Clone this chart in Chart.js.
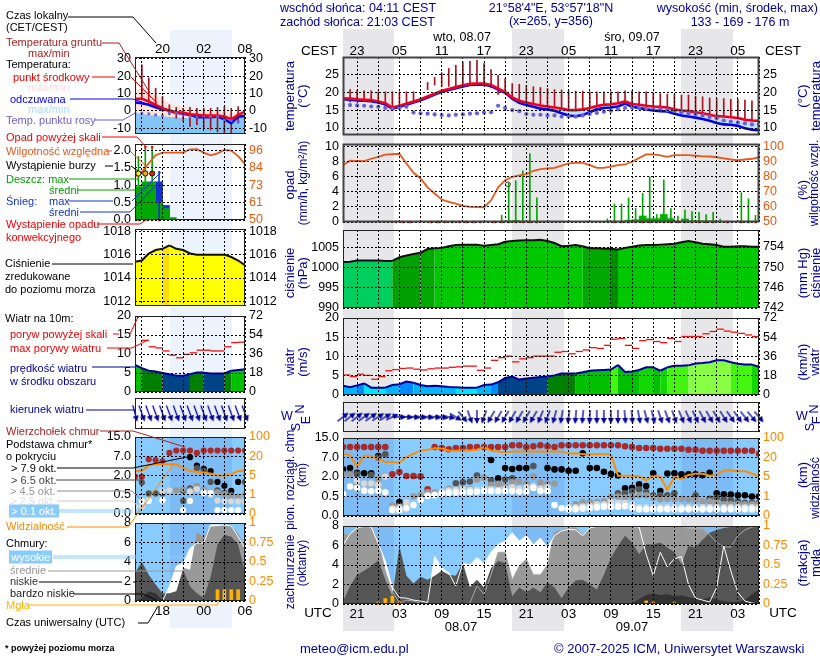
<!DOCTYPE html>
<html lang="pl">
<head>
<meta charset="utf-8">
<title>Meteogram ICM</title>
<script src="https://cdn.jsdelivr.net/npm/chart.js@4/dist/chart.umd.min.js"></script>
<style>
  html, body { margin: 0; padding: 0; background: #fff; }
  #page { position: relative; width: 820px; height: 660px; overflow: hidden; font-family: "Liberation Sans", Arial, sans-serif; font-size: 12px; }
  #page canvas { position: absolute; z-index: 1; }
  #page svg { position: absolute; left: 0; top: 0; z-index: 2; }
  .band { position: absolute; z-index: 0; }
  .txt { position: absolute; white-space: nowrap; z-index: 3; line-height: 13px; }
</style>
</head>
<body>
<div id="page"></div>
<script>
// --- czas: godziny od 00 UTC 07.07 ---
const hours = [19,20,21,22,23,24,25,26,27,28,29,30,31,32,33,34,35,36,37,38,39,40,41,42,43,44,45,46,47,48,49,50,51,52,53,54,55,56,57,58,59,60,61,62,63,64,65,66,67,68,69,70,71,72,73,74,75,76,77,78];
const legendHours = [14,15,16,17,18,19,20,21,22,23,24,25,26,27,28,29,30];

// --- panel glowny ---
const temp = [18.3,18.2,18.0,17.9,17.8,17.4,16.9,15.7,16.2,16.8,17.4,18.0,18.8,19.6,20.4,20.9,21.4,21.9,22.3,22.4,22.4,22.0,21.0,20.0,18.5,17.6,17.1,16.7,16.3,16.0,15.7,15.4,15.0,15.0,15.2,15.6,16.1,16.5,16.6,16.9,17.4,16.7,16.5,16.2,16.0,15.9,15.7,15.2,14.9,14.7,14.4,14.1,13.7,13.3,13.2,13.0,12.8,12.3,12.1,12.0];
const tempMax = [19.3,19.3,19.2,19.0,18.8,18.3,17.6,16.2,16.6,17.2,17.7,18.3,19.0,19.8,20.6,21.1,21.6,22.1,22.6,22.8,22.8,22.6,21.9,20.9,19.2,18.0,17.5,17.1,16.7,16.3,16.0,15.7,15.3,15.3,15.5,15.9,16.5,16.9,17.0,17.3,17.8,17.1,16.9,16.6,16.3,16.2,16.0,15.5,15.2,15.0,14.7,14.4,14.0,13.7,13.6,13.4,13.2,12.8,12.6,12.4];
const tempMin = [18.1,18.0,17.8,17.7,17.6,17.2,16.7,15.5,16.0,16.6,17.2,17.8,18.6,19.4,20.2,20.7,21.2,21.7,22.1,22.2,22.2,21.8,20.8,19.8,18.3,17.4,16.9,16.5,16.1,15.8,15.5,15.2,14.8,14.8,15.0,15.4,15.9,16.3,16.4,16.7,17.2,16.5,16.3,16.0,15.8,15.7,15.5,15.0,14.7,14.5,14.2,13.9,13.5,13.1,13.0,12.8,12.6,12.1,11.9,11.8];
const feels = [18.0,17.9,17.7,17.6,17.5,17.1,16.6,15.4,15.9,16.5,17.1,17.7,18.5,19.3,20.1,20.6,21.1,21.6,22.0,22.1,22.1,21.7,20.7,19.8,18.2,17.0,16.4,15.9,15.4,15.2,14.8,14.1,13.5,13.3,13.6,14.4,15.2,15.6,15.7,16.0,16.8,15.9,15.6,15.2,14.9,14.7,14.6,14.0,13.5,13.2,12.9,12.5,12.0,11.4,11.0,10.9,10.6,9.9,9.5,9.4];
const feelsMin = [17.8,17.7,17.5,17.4,17.3,16.9,16.4,15.2,15.7,16.3,16.9,17.5,18.3,19.1,19.9,20.4,20.9,21.4,21.8,21.9,21.9,21.5,20.5,19.6,18.0,16.8,16.2,15.7,15.2,15.0,14.6,13.9,13.3,13.1,13.4,14.2,15.0,15.4,15.5,15.8,16.6,15.7,15.4,15.0,14.7,14.5,14.4,13.8,13.3,13.0,12.7,12.3,11.8,11.2,10.8,10.7,10.4,9.7,9.3,9.2];
const dewPoint = [16.4,16.4,16.3,16.2,16.0,15.9,15.6,15.3,15.6,15.9,14.3,14.1,14.0,13.8,13.6,13.5,13.7,13.8,14.0,14.1,14.3,14.4,16.2,15.6,15.0,14.7,13.9,13.7,13.7,13.5,13.5,13.2,13.2,13.2,13.5,13.9,14.2,14.5,14.8,15.2,15.6,15.7,15.5,15.3,15.3,15.2,15.0,14.7,14.4,14.0,13.8,13.5,13.1,12.7,12.1,11.8,11.5,11.3,11.0,11.0];
const groundMax = [null,20.7,20.6,20.4,20.4,20.1,20.1,20.1,20.1,20.1,20.1,null,22.7,24.1,25.4,26.6,27.5,28.4,28.6,28.9,28.0,26.3,24.7,23.8,22.4,22.2,21.9,21.5,21.3,21.0,20.7,20.6,20.4,20.3,20.3,20.1,20.1,20.1,20.1,20.1,20.4,20.4,20.1,20.1,19.8,19.6,19.4,19.4,19.2,19.2,18.9,18.7,18.4,18.2,18.2,18.0,18.0,17.8,17.6,null];
const groundMin = [null,17.3,17.6,17.6,17.4,17.0,16.2,15.6,16.0,16.6,17.2,null,20.7,22.0,21.6,21.6,21.7,22.2,22.4,22.4,22.4,21.2,19.4,20.2,18.5,17.8,17.3,16.9,16.5,16.2,15.9,15.5,15.2,15.2,15.4,15.8,16.3,16.7,16.8,17.1,17.6,16.9,16.7,16.4,16.2,16.0,15.8,15.4,15.1,14.8,14.5,14.2,13.8,13.4,13.3,13.1,12.9,12.4,12.2,null];

const humidity = [87.8,90.7,90.5,90.4,92,93.3,94.7,95,95.3,88.9,82.7,78.9,73,68.9,64.9,63.3,62.2,60.7,60,59.9,59.8,64.4,73,77.8,80,81,81.8,84,85.1,85.6,86,87.5,88.9,89.3,89.3,87.8,86,86,86.7,87.8,88.2,90,92.5,94.9,94.9,94.2,93.3,94.4,94.4,94.4,94,93.6,93.5,93,92.2,91.5,91,91.5,92,93];
const rainMax = [0,0,0,0,0,0,0,0,0,0,0,0,0,0.1,0,0,0,0,0,0,0,0,0.9,5.2,5.5,6.8,9.1,3.2,0,0,0,0,0,0,0,0,0,0.4,2.4,2.4,3.2,1.8,3.8,6,1,5.6,1.8,0.8,1.6,1.4,1.3,1,1.3,0.4,0,0,3.9,3.1,0.9,0];
const rainAvg = [0,0,0,0,0,0,0,0,0,0,0,0,0,0,0,0,0,0,0,0,0,0,0,0.15,0.2,0.1,0.1,0.05,0,0,0,0,0,0,0,0,0,0,0.1,0.1,0.25,0.3,0.8,0.45,0.45,1,0.45,0.1,0.4,0.15,0.15,0.15,0.15,0.05,0,0,0.1,0.1,0.1,0];
const convectiveHours = [26,27,28,31,32,33,34,35,36,37,38,40,41,42,43,44,45,46,57,58,59,60,61,62,63,64,65,66,67,68,69,70,71,73,75,76,77];
const stormHours = [42.4];
const stormRain = [5];

const pressure = [1001.3,1001.4,1001.7,1001.7,1001.7,1001.7,1001.6,1001.6,1002.5,1002.9,1003.3,1003.6,1004.5,1004.7,1004.8,1005.2,1005.5,1005.6,1005.6,1005.6,1005.3,1005.5,1005.7,1006.3,1006.5,1006.6,1006.7,1006.7,1006.8,1006.5,1006,1005.2,1005.3,1005.5,1005.2,1004.7,1004.7,1004.6,1004.6,1004.4,1004.8,1005.1,1005.4,1005.5,1005.5,1005.6,1005.7,1005.8,1006.2,1006.5,1006.2,1005.8,1005.7,1005.5,1005.1,1005.1,1005.2,1005.2,1005.1,1005.1];

const wind = [2.4,2,2.5,3,1.9,1.9,1.9,2.6,2.8,3.5,3.2,2.6,2.3,2.4,2.3,2.1,2,1.9,1.9,1.9,2.6,2.7,3.3,4.4,4.8,4,4.3,4.5,4.7,4.8,5.1,5.6,5.6,5.6,5.9,6.3,6.4,6.5,6.6,7.8,6,6.1,6.5,7.2,7.2,6.3,7.2,7.6,7.6,7.7,8.2,8.3,8.5,9,9,8.5,8.1,7.9,7.9,7.3];
const gust = [5.2,4.8,5.4,5.1,4.1,4.8,6.3,6.6,6.9,7,6.7,6.5,6.8,7,7,7.2,7.3,7.5,7.5,6.4,7,9,9.7,10.1,8.6,9.4,9.7,10.1,10.1,10.1,11.1,11.3,10.7,11.3,11.7,12.3,12.1,12.9,14.5,14.7,12.9,12.1,14.1,14.4,13.9,13.6,14.7,13.9,15.2,15.2,15.2,15.9,16.5,17.1,16.6,16.3,16,15.6,15.2,15.2];
const windFrom = [232,232,232,235,235,238,240,245,272,275,276,277,278,278,280,282,300,320,340,0,20,30,30,30,30,30,30,30,22,20,15,10,8,5,5,3,0,0,0,0,355,355,350,345,345,342,340,340,338,335,335,332,330,330,328,325,325,322,320,320];

const cloudTop = [11.3,11.3,11.3,11.3,11.3,11.3,11.3,2.7,3.3,2.25,2.25,2.15,1.05,11.3,10.9,10.4,10.9,10.9,11.3,11.3,11.3,11.3,11.3,11.3,12,12,11.3,11.6,12,11.6,11.3,12,12,12,12,12,12,12,12,12,11.6,11.3,10.9,10.9,10.9,10.6,10.6,10.6,10.6,10.2,10.2,9.8,9.8,9.8,9.8,9.8,9.8,9.8,9.8,8.5];
const base79 = [3.95,4.3,3.1,2.95,2.95,7.6,null,null,0.36,null,null,null,null,null,null,null,null,null,null,null,null,6.35,1.9,4.3,4.05,4.3,4.3,null,null,4.3,3.95,3.95,3.6,3.6,8.7,4.3,4.3,3.35,2.75,2.4,1.13,1.17,1.43,1.31,2.95,0.92,2.9,2.95,2.7,2.7,2.7,2.45,3.1,0.74,0.67,0.65,0.6,0.6,0.5,0.5];
const base65 = [2.85,2.85,2.8,null,2.5,7,8.3,null,0.27,null,null,null,null,null,null,null,1.52,1.6,1.65,2.4,null,1.75,1.5,1.8,1.9,null,null,4.8,null,null,null,null,null,null,null,null,null,null,null,0.74,0.74,0.92,1.05,0.85,0.59,0.59,0.59,0.74,null,null,0.59,null,0.44,0.47,0.43,0.41,0.38,0.34,0.34,0.34];
const base45 = [2.6,2.6,1.6,1.5,1.5,1.85,2.3,0.27,0.21,0.36,0.5,0.6,0.85,0.8,0.85,1.1,1.05,1.05,1.05,1.8,1.95,1.4,1.45,1.3,1.6,1.65,1.5,2.1,1.6,1.5,1.5,null,null,0.3,0.36,0.35,0.35,0.38,0.5,0.5,0.47,0.5,0.6,0.59,0.47,0.43,0.44,0.43,0.44,0.43,0.41,0.38,0.38,0.34,0.3,0.3,0.3,0.3,0.3,0.3];
const base25 = [null,null,1.7,1.5,1.5,1.4,2.1,0.19,0.22,0.35,null,null,0.58,0.65,0.85,0.95,1,1.05,1,1,1.1,1.05,1,1.1,1.2,1.1,1.2,1.3,1.1,1.2,null,null,0.22,0.22,0.24,0.26,0.3,0.3,0.36,0.33,0.33,0.3,0.22,0.22,0.22,0.22,0.22,0.22,0.22,0.22,0.22,0.22,0.22,0.22,0.22,0.22,0.22,0.22,0.22,0.22];
const base01 = [0.68,1.27,1.15,0.95,0.9,0.95,0.82,0.15,0.15,0.2,0.28,0.41,0.55,0.6,0.72,0.78,0.8,0.8,0.85,0.87,0.9,0.9,0.9,0.9,0.9,0.87,0.87,1.15,0.9,0.9,0.28,0.2,0.17,0.17,0.19,0.2,0.22,0.24,0.24,0.24,0.25,0.21,0.17,0.17,0.17,0.17,0.17,0.17,0.17,0.17,0.17,0.17,0.17,0.17,0.17,0.17,0.17,0.17,0.17,0.17];
const visibility = [35,29,13,27,25,19,16.5,16.5,16,21.6,35,48,52,58,58,48,48,49,49,52,63,48,45,41,45,45,45,45,45,45,45,45,36,37,33,33,33,33,33,5.9,5.9,5.9,5.5,4.3,5.9,5.2,2.4,5,4.6,6.6,7.5,7.5,5.9,6.6,10,10,9.5,9.5,7.5,5.5];

const cloudHigh = [6.05,7.2,7.8,8,7.9,6.2,4.4,1.7,0.65,0.6,0.4,0.3,0.15,4.9,3.7,3.2,1.85,4.2,4,4.75,4.1,5.3,6.1,6.45,7.3,6.45,7,6.1,6.75,5.8,7,7.5,7.65,7.6,7,7.8,8,8,8,8,8,7.95,7.9,5.1,2.9,5.3,3.8,4.65,4.85,2,0.6,0.4,0.2,1.7,5.95,3.4,1.2,0.3,0.1,0];
const cloudMid = [7.2,7.1,7.8,7.9,7.9,6.5,3.4,1.3,0.1,0.4,0.3,0.1,0,0,0,0,0,0,0.1,1.85,1,3,5.3,5.3,2.5,3.9,4.6,3,3,4,7.4,7.6,7.8,7.85,7.1,7.8,7.9,7.9,7.95,7.95,7.95,7.95,7.95,7.95,7.95,7.9,7.9,8,7.95,7.75,7.75,7.7,7.1,6.3,5.85,5.85,7,7.6,7.9,8];
const cloudLow = [0.25,1.85,3,3.4,3.9,4.5,2.5,0.8,5.95,2.9,2.1,2.8,2.5,2.9,3.4,3,2.9,4.2,1.75,2.5,1.7,3.7,4.4,4.2,0.8,1.7,1.2,1.7,1.2,2.2,1.7,0.6,1.7,2.4,2.5,2,1.5,3,4.75,5.95,7,6.3,5.1,6.1,6.1,6.3,5.8,5.3,4.1,5.95,5.8,6.6,7.3,7.6,7.8,7.9,8,8,8,8];
const cloudVeryLow = [0.1,0.1,0,0,0,0,0,0,0,0,0,0,0,0,0,0,0,0,0,0,0,0,0,0,0,0,0,0,0,0,0,0,0,0,0,0,0,0,0,0,0,0.1,0.5,0.9,1.1,0.9,1,0.8,0.9,0.7,0.6,0.5,0.7,0.4,0.3,0.2,0.2,0.4,1,1.5];
const fog = [0,0,0,0,0,0,0.07,0.1,0,0,0,0,0,0,0,0,0,0,0,0,0,0,0,0,0,0,0,0,0,0,0,0,0,0,0,0,0,0,0,0,0,0,0,0.04,0,0,0,0,0,0,0,0,0,0,0,0,0,0,0,0];
const fogTraceHours = [24,27,63,66];
const fogTrace = [0.01,0.01,0.01,0.01];

// --- legenda (panel lewy) ---
const legTemp = [6.9,6.9,5.4,3.5,1.5,0,-1,-1,-1.9,-2.3,-2.7,-2.7,-2.7,-3.3,-4.8,-2.3,-0.4];
const legTempMax = [13,12.5,11,9,7,4.4,3,2.6,1.5,1,0.4,0.2,0,-0.5,-1.5,-0.5,0];
const legFeels = [4.8,4.4,3.5,2.1,1,0.2,-1,-1.7,-2.3,-3.7,-3.7,-3.7,-3.3,-4.8,-7.1,-3.3,-2.9];
const legFeelsTop = [-1.3,-1.8,-2.3,-2.8,-3.3,-3.5,-3.7,-4,-4.3,-4.3,-4.3,-4.3,-4.4,-5,-7.1,-4,-3.2];
const legDew = [-1.5,-1.3,-1.7,-2.3,-2.7,-1.3,-1.3,-2.3,-3.3,-3.7,-3.7,-3.3,-3.3,-5.2,-5.6,-6.2,-4.3];
const legGroundMax = [null,26.5,19,13,8.3,3.5,2,1.5,2,1.5,1.5,1.5,2,2.5,1.5,2.5,null];
const legGroundMin = [null,8,4.4,2.5,-0.4,-2.3,-4.2,-6,-9,-8,-10,-11,-12,-13,-13,-7,null];

const legHumidity = [78.7,82,87.6,93,94.7,94.7,94.7,94.7,96.9,97,94.7,92.9,94.2,96.4,96,92.4,87.1];
const legRainAvg = [0.96,1.1,1.1,0.52,0.33,0.07,0,0,0,0,0,0,0,0,0,0,0];
const legSnowAvg = [0,0,0,1.1,0.42,0,0,0,0,0,0,0,0,0,0,0,0];
const legRainMax = [1.83,2.07,2.07,0,0,0,0,0,0,0,0,0,0,0,0,0,0];
const legSnowMax = [0,0,0,1.4,0,0,0,0,0,0,0,0,0,0,0,0,0];
const legOverHours = [15.5,16.5];
const legOver = [2.1,2.1];
const legStormHours = [14.5,15.5,16.5];
const legStorm = [1.34,1.34,1.34];
const legConvHours = [14.5,15.5,16.5,17.5];

const legPressure = [1015.4,1015.5,1016.1,1016.4,1016.5,1016.8,1016.5,1016.4,1016.1,1016,1016,1016,1016,1016,1015.8,1015.5,1015.1];

const legWind = [7.1,6.3,5.6,5.4,5,4.7,4.3,4.3,4.7,5.1,5.1,4.9,4.9,4.9,5.6,5.8,6];
const legGust = [null,13.6,11.9,11.6,10.8,9.7,9,9.9,10.3,11,11,10.8,10.8,11.9,13,13.1,null];
const legOverGustHours = [14.4];
const legOverGust = [19.7];
const legWindFrom = [345,340,340,340,340,340,340,340,340,340,340,340,340,340,340,340,340];

const legTop = [1.9,1.9,6.2,6,5.7,8.4,9.4,9.4,9.4,8.4,9.4,9.4,9.4,9.4,9.4,9.4,9.4];
const legBase79 = [null,null,null,null,null,null,null,0.86,6.75,4.6,3.75,3.15,1.5,1.2,0.8,1.5,null];
const legBase65 = [null,1.45,0.6,0.6,0.6,null,null,0.34,1,3.9,3.2,1.5,0.85,0.65,0.5,null,1.5];
const legBase45 = [null,0.33,null,null,null,0.85,0.85,0.9,0.85,1.2,0.9,0.7,0.7,0.55,0.45,0.45,0.5];
const legBase25 = [0.19,0.2,null,null,0.75,0.85,null,null,0.75,0.95,0.7,0.5,0.35,0.33,0.33,0.33,0.33];
const legBase01 = [null,0.34,0.34,null,0.36,null,null,0.1,0.34,null,0.65,0.65,0.1,0.1,0.1,0.1,null];
const legVisibility = [8.5,8.5,12.8,13.7,13.7,13.7,13.7,11,8.5,8,7.2,6.5,5,5,5.9,8.5,8.5];

const legHigh = [0,0,0,0,0,1.5,3.55,3.9,5.4,5.95,5.95,7.8,7.8,7.8,7.7,6.6,5.4];
const legMid = [0,0,0,0,0,0,0.8,3.4,3.2,7.1,6.6,7.65,7.7,7.8,7.8,6.95,5.6];
const legLow = [2.9,4,2.7,1.7,0.8,0.8,1,3.2,1.5,0.8,0.3,2.5,5.8,6.8,6.6,5.8,2.9];
const legVeryLow = [0,0.3,1,0.8,0.1,0,0,0,0,0,0,0,0,0,0,0,0];
const legFog = [0,0,0,0,0,0,0,0,0,0,0,0,0.145,0.145,0.145,0.145,0];

// --- etykiety osi ---
const tempTicks = [10,15,20,25];
const legTempTicks = [-10,0,10,20,30];
const rainTicks = [0,2,4,6,8,10];
const humTicks = [50,60,70,80,90,100];
const legRainTicks = [0,0.5,1,1.5,2];
const legHumTicks = [50,61.5,73,84.5,96];
const pressTicks = [990,995,1000,1005];
const mmHgTicks = [742,746,750,754];
const legPressTicks = [1012,1014,1016,1018];
const windTicks = [0,5,10,15,20];
const kmhTicks = [0,18,36,54,72];
const baseStops = [0,0.5,2,7,15];
const visStops = [0,1,5,20,100];
const cloudTicks = [0,2,4,6,8];
const fogTicks = [0,0.25,0.5,0.75,1];

const nightBands = [[19,26.2],[43,50.4],[67,74.3]];
const legNightBands = [[19.1,28.1]];

const NAVY = '#000099';
const page = document.getElementById('page');

function pts(xs, ys, dx) {
  return ys.map((y, i) => ({ x: xs[i] + (dx || 0), y }));
}
// os nieliniowa chmur: progi rownomiernie rozlozone
function toPos(v, stops) {
  if (v === null) return null;
  for (let i = 1; i < stops.length; i++) {
    if (v <= stops[i]) return i - 1 + (v - stops[i - 1]) / (stops[i] - stops[i - 1]);
  }
  return stops.length - 1;
}
function posAll(arr, stops) {
  return arr.map(v => toPos(v, stops));
}

function windColor(v) {
  if (v < 2) return '#00e6ff';
  if (v < 3) return '#00b4ff';
  if (v < 3.6) return '#0088ff';
  if (v < 5) return '#004488';
  if (v < 5.7) return '#008000';
  if (v < 6.7) return '#00c000';
  if (v < 7.5) return '#11d800';
  if (v < 8.2) return '#44f511';
  return '#88ff44';
}
function pressColor(v) {
  if (v < 1002.4) return '#00cf5f';
  if (v < 1004.3) return '#00a000';
  if (v < 1004.5) return '#008c00';
  if (v < 1004.8) return '#00a800';
  return '#00c800';
}

// strzalka kierunku wiatru, grot do gory
function makeArrow(len) {
  const c = document.createElement('canvas');
  c.width = c.height = len + 4;
  const g = c.getContext('2d');
  const m = c.width / 2;
  g.strokeStyle = NAVY;
  g.fillStyle = NAVY;
  g.lineWidth = 1.3;
  g.beginPath();
  g.moveTo(m, 2 + len);
  g.lineTo(m, 6);
  g.stroke();
  g.beginPath();
  g.moveTo(m, 2);
  g.lineTo(m - 3, 8);
  g.lineTo(m + 3, 8);
  g.closePath();
  g.fill();
  return c;
}
const arrowMain = makeArrow(14);
const arrowLeg = makeArrow(17);

const decor = {
  id: 'decor',
  beforeDraw(chart, args, o) {
    const { ctx, chartArea: a, scales } = chart;
    ctx.save();
    if (o.bg) {
      ctx.fillStyle = o.bg;
      ctx.fillRect(a.left, a.top, a.width, a.height);
    }
    if (o.bandColor) {
      ctx.fillStyle = o.bandColor;
      o.bands.forEach(b => {
        const x0 = scales.x.getPixelForValue(b[0]);
        const x1 = scales.x.getPixelForValue(b[1]);
        ctx.fillRect(x0, a.top, x1 - x0, a.height);
      });
    }
    ctx.restore();
  },
  afterDraw(chart, args, o) {
    const { ctx, chartArea: a } = chart;
    ctx.save();
    ctx.strokeStyle = o.frame > 1 ? '#444' : '#222';
    ctx.lineWidth = o.frame || 1;
    ctx.strokeRect(a.left + 0.5, a.top + 0.5, a.width - 1, a.height - 1);
    ctx.restore();
  }
};

function yScale(c, position) {
  return {
    type: 'linear',
    position,
    min: c.min,
    max: c.max,
    afterBuildTicks(scale) { scale.ticks = (c.ticks || []).map(value => ({ value })); },
    afterFit(scale) { scale.width = c.width; },
    border: { display: false, dash: [2, 2] },
    grid: { display: position === 'left' && !c.noGrid, color: '#000', z: 1, drawTicks: false },
    ticks: {
      display: !!c.ticks,
      padding: c.padding || 4,
      autoSkip: false,
      color: c.color || '#000',
      font: { family: 'Liberation Sans', size: 12.5 },
      callback: (v, i) => c.labels ? c.labels[i] : String(v)
    }
  };
}

function panel(r, o) {
  const padT = 14, padB = 14;
  const xh = o.xLabel ? 16 : 0;
  const lw = o.y.width, rw = o.y2.width;
  const cv = document.createElement('canvas');
  const h = r.h + padT + padB + xh;
  cv.width = r.w + lw + rw;
  cv.height = h;
  cv.style.left = (r.x - lw) + 'px';
  cv.style.top = (r.y - padT - (o.xPos === 'top' ? xh : 0)) + 'px';
  cv.style.width = cv.width + 'px';
  cv.style.height = h + 'px';
  page.appendChild(cv);
  return new Chart(cv, {
    type: 'line',
    data: { datasets: o.datasets },
    plugins: [decor],
    options: {
      responsive: false,
      animation: false,
      devicePixelRatio: 1,
      layout: { padding: { top: padT, bottom: padB, left: 0, right: 0 } },
      plugins: {
        legend: { display: false },
        tooltip: { enabled: false },
        decor: { bg: o.bg, bandColor: o.bandColor, bands: o.bands, frame: o.frame }
      },
      elements: { point: { radius: 0 }, line: { tension: 0 } },
      scales: {
        x: {
          type: 'linear',
          position: o.xPos || 'bottom',
          min: o.xMin,
          max: o.xMax,
          offset: false,
          border: { display: false, dash: [2, 2] },
          grid: { color: '#000', z: 1, drawTicks: false, offset: false },
          afterFit(scale) { scale.height = xh; },
          ticks: {
            stepSize: 3,
            includeBounds: false,
            display: !!o.xLabel,
            autoSkip: false,
            maxRotation: 0,
            padding: o.xPad !== undefined ? o.xPad : 2,
            color: '#000',
            font: { family: 'Liberation Sans', size: 13.5 },
            callback: v => o.xLabel ? o.xLabel(v) : ''
          }
        },
        y: yScale(o.y, 'left'),
        y2: yScale(o.y2, 'right')
      }
    }
  });
}

function line(data, color, width, extra) {
  return Object.assign({ data, borderColor: color, borderWidth: width, pointRadius: 0, fill: false }, extra);
}
function dots(data, color, radius, extra) {
  return Object.assign({ data, showLine: false, pointRadius: radius, pointBackgroundColor: color, pointBorderColor: color, pointBorderWidth: 0 }, extra);
}
function bars(data, color, thickness, extra) {
  return Object.assign({ type: 'bar', data, backgroundColor: color, barThickness: thickness, grouped: false, borderWidth: 0 }, extra);
}
// wypelnienie kolorem zaleznym od wartosci; rysowane dwa razy, zeby nie bylo szczelin miedzy segmentami
function colorFill(data, color, width, base, colorFor) {
  const seg = () => ({ fill: 'start', backgroundColor: base, segment: { backgroundColor: c => colorFor(c.p1.parsed.y) } });
  return [line(data, color, width, seg()), line(data, 'rgba(0,0,0,0)', 0, seg())];
}
const pad2 = n => String(n).padStart(2, '0');

// ---------- panele glowne ----------
const M = { x: 343, w: 416, xMin: 19, xMax: 78, bands: nightBands };
const mainW = 50, mainR = 40;

panel({ x: M.x, y: 57, w: M.w, h: 78 }, {
  xMin: M.xMin, xMax: M.xMax, xPos: 'top', frame: 2, xPad: -2,
  xLabel: v => (v % 6 === 3 ? pad2((v + 2) % 24) : ''),
  y: { min: 8.05, max: 29.8, ticks: tempTicks, width: mainW },
  y2: { min: 8.05, max: 29.8, ticks: tempTicks, width: mainR },
  datasets: [
    dots(pts(hours, dewPoint), '#6a5fd8', 2.1),
    line(pts(hours, temp), '#ee0022', 2.6),
    line(pts(hours, feels), '#0000ee', 2.6),
    bars(groundMax.map((y, i) => ({ x: hours[i], y: y === null ? null : [groundMin[i], y] })), '#aa1122', 1),
    line(pts(hours, tempMax), 'rgba(0,0,0,0)', 0, { fill: '+1', backgroundColor: '#ffe2e2' }),
    line(pts(hours, tempMin), 'rgba(0,0,0,0)', 0, { fill: '+1', backgroundColor: '#bfe2ff' }),
    line(pts(hours, feelsMin), 'rgba(0,0,0,0)', 0)
  ]
});

panel({ x: M.x, y: 144, w: M.w, h: 78 }, {
  xMin: M.xMin, xMax: M.xMax, frame: 2,
  y: { min: 0, max: 10.37, ticks: rainTicks, width: mainW },
  y2: { min: 50, max: 101.8, ticks: humTicks, width: mainR, color: '#e85a10' },
  datasets: [
    dots(pts(stormHours, stormRain), 'rgba(0,0,0,0)', 2.5, { pointBorderColor: '#444', pointBorderWidth: 1 }),
    dots(convectiveHours.map(x => ({ x: x + 0.5, y: 0 })), '#dd1111', 1.7, { pointStyle: 'rect', clip: false }),
    line(pts(hours, humidity), '#e8581c', 1.8, { yAxisID: 'y2' }),
    bars(pts(hours, rainMax, 0.5), '#00aa00', 1),
    bars(pts(hours, rainAvg, 0.5), '#00b400', 7)
  ]
});

panel({ x: M.x, y: 230, w: M.w, h: 78 }, {
  xMin: M.xMin, xMax: M.xMax, frame: 1,
  y: { min: 990, max: 1009.2, ticks: pressTicks, width: mainW },
  y2: { min: 742, max: 757.3, ticks: mmHgTicks, width: mainR },
  datasets: colorFill(pts(hours, pressure), '#111', 2, '#00c800', pressColor)
});

panel({ x: M.x, y: 318, w: M.w, h: 77 }, {
  xMin: M.xMin, xMax: M.xMax, frame: 1,
  y: { min: 0, max: 20, ticks: windTicks, width: mainW },
  y2: { min: 0, max: 72, ticks: kmhTicks, width: mainR },
  datasets: [
    dots(pts(hours, gust, 0.5), '#ee1111', 3.6, { pointStyle: 'line', pointBorderWidth: 1.3 }),
    ...colorFill(pts(hours, wind), '#000099', 2, '#00c000', windColor)
  ]
});

panel({ x: M.x, y: 402, w: M.w, h: 30 }, {
  xMin: M.xMin, xMax: M.xMax, frame: 1,
  y: { min: 0, max: 1, width: mainW, noGrid: true },
  y2: { min: 0, max: 1, width: mainR },
  datasets: [
    dots(hours.map(x => ({ x, y: 0.5 })), NAVY, 8, {
      pointStyle: arrowMain,
      pointRotation: windFrom.map(d => (d + 180) % 360),
      clip: false
    })
  ]
});

panel({ x: M.x, y: 438, w: M.w, h: 78 }, {
  xMin: M.xMin, xMax: M.xMax, frame: 1,
  bg: '#88ccff', bandColor: 'rgba(70,110,190,0.18)', bands: M.bands,
  y: { min: 0, max: 4, ticks: [0, 1, 2, 3, 4], labels: baseStops.map(v => v.toFixed(1)), width: mainW },
  y2: { min: 0, max: 4, ticks: [0, 1, 2, 3, 4], labels: visStops.map(String), width: mainR, color: '#ff8800' },
  datasets: [
    line(pts(hours, posAll(visibility, visStops)), '#ff8c00', 2, { yAxisID: 'y2' }),
    dots(pts(hours, posAll(base01, baseStops)), '#fff', 3.3),
    dots(pts(hours, posAll(base25, baseStops)), '#d8d8d8', 3.3),
    dots(pts(hours, posAll(base45, baseStops)), '#999', 3.3),
    dots(pts(hours, posAll(base65, baseStops)), '#555', 3.3),
    dots(pts(hours, posAll(base79, baseStops)), '#000', 3.3),
    dots(pts(hours, posAll(cloudTop, baseStops)), '#aa2a2a', 3.3)
  ]
});

panel({ x: M.x, y: 526, w: M.w, h: 78 }, {
  xMin: M.xMin, xMax: M.xMax, frame: 1,
  bg: '#88ccff', bandColor: 'rgba(70,110,190,0.18)', bands: M.bands,
  xLabel: v => (v % 6 === 3 ? pad2(v % 24) : ''),
  y: { min: 0, max: 8, ticks: cloudTicks, width: mainW },
  y2: { min: 0, max: 1, ticks: fogTicks, width: mainR, color: '#ff8800' },
  datasets: [
    dots(pts(fogTraceHours, fogTrace), '#ffee88', 1.5, { yAxisID: 'y2', pointBorderColor: '#ff9900', pointBorderWidth: 1, clip: false }),
    bars(pts(hours, fog), '#ffb000', 3, { yAxisID: 'y2' }),
    line(pts(hours, cloudHigh), '#fff', 1),
    line(pts(hours, cloudMid), '#a8a8a8', 1),
    line(pts(hours, cloudVeryLow), 'rgba(0,0,0,0)', 0, { fill: 'start', backgroundColor: '#333' }),
    line(pts(hours, cloudLow), 'rgba(0,0,0,0)', 0, { fill: 'start', backgroundColor: '#555' }),
    line(pts(hours, cloudMid), 'rgba(0,0,0,0)', 0, { fill: 'start', backgroundColor: '#999' }),
    line(pts(hours, cloudHigh), 'rgba(0,0,0,0)', 0, { fill: 'start', backgroundColor: '#fff' })
  ]
});

// ---------- panele legendy ----------
const L = { x: 135, w: 110, xMin: 14, xMax: 30 };
const legW = 50, legR = 40;

panel({ x: L.x, y: 57, w: L.w, h: 77 }, {
  xMin: L.xMin, xMax: L.xMax, xPos: 'top', xPad: 0,
  xLabel: v => (v % 6 === 0 ? pad2((v + 2) % 24) : ''),
  y: { min: -13.3, max: 31, ticks: legTempTicks, width: legW },
  y2: { min: -13.3, max: 31, ticks: legTempTicks, width: legR },
  datasets: [
    dots(pts(legendHours, legDew), '#6a5fd8', 1.9, { pointStyle: 'rect' }),
    line(pts(legendHours, legTemp), '#ee0022', 2.6),
    line(pts(legendHours, legFeels), '#0000ee', 2.6),
    bars(legGroundMax.map((y, i) => ({ x: legendHours[i], y: y === null ? null : [legGroundMin[i], y] })), '#aa1122', 1),
    line(pts(legendHours, legFeelsTop), 'rgba(0,0,0,0)', 0, { fill: 'start', backgroundColor: 'rgba(100,190,255,0.8)' }),
    line(pts(legendHours, legTempMax), 'rgba(0,0,0,0)', 0, { fill: { value: -13 }, backgroundColor: '#ffe2d8' })
  ]
});

panel({ x: L.x, y: 144, w: L.w, h: 76 }, {
  xMin: L.xMin, xMax: L.xMax,
  y: { min: 0, max: 2.19, ticks: legRainTicks, labels: legRainTicks.map(v => v.toFixed(1)), width: legW },
  y2: { min: 50, max: 100.4, ticks: legHumTicks, labels: legHumTicks.map(v => String(Math.floor(v))), width: legR, color: '#e85a10' },
  datasets: [
    dots(pts(legStormHours, legStorm), ['#ffee00', '#ffaa00', '#ee2200'], 2.6, { pointBorderColor: '#111', pointBorderWidth: 1 }),
    dots(pts(legOverHours, legOver), '#ee1111', 1.7, { pointStyle: 'rect' }),
    dots(legConvHours.map(x => ({ x, y: 0 })), '#dd1111', 1.5, { pointStyle: 'rect', clip: false }),
    line(pts(legendHours, legHumidity), '#e8581c', 1.8, { yAxisID: 'y2' }),
    bars(pts(legendHours, legRainMax, 0.5), '#00aa00', 1),
    bars(pts(legendHours, legSnowMax, 0.5), '#1133cc', 1),
    bars(pts(legendHours, legRainAvg, 0.5), '#00a800', 7),
    bars(pts(legendHours, legSnowAvg, 0.5), '#1133cc', 7)
  ]
});

panel({ x: L.x, y: 229, w: L.w, h: 77 }, {
  xMin: L.xMin, xMax: L.xMax,
  y: { min: 1011.6, max: 1018.2, ticks: legPressTicks, width: legW },
  y2: { min: 1011.6, max: 1018.2, ticks: legPressTicks, width: legR },
  datasets: colorFill(pts(legendHours, legPressure), '#111', 2, '#ffff00', v => (v > 1016.7 ? '#ffdd00' : '#ffff00'))
});

panel({ x: L.x, y: 316, w: L.w, h: 76 }, {
  xMin: L.xMin, xMax: L.xMax,
  y: { min: 0, max: 20, ticks: windTicks, width: legW },
  y2: { min: 0, max: 72, ticks: kmhTicks, width: legR },
  datasets: [
    dots(pts(legOverGustHours, legOverGust), '#ee1111', 1.5, { pointStyle: 'rect' }),
    dots(pts(legendHours, legGust, 0.5), '#ee1111', 3.6, { pointStyle: 'line', pointBorderWidth: 1.3 }),
    ...colorFill(pts(legendHours, legWind), '#000099', 2, '#00c000', windColor)
  ]
});

panel({ x: L.x, y: 398, w: L.w, h: 31 }, {
  xMin: L.xMin, xMax: L.xMax,
  y: { min: 0, max: 1, width: legW, noGrid: true },
  y2: { min: 0, max: 1, width: legR },
  datasets: [
    dots(legendHours.map(x => ({ x, y: 0.5 })), NAVY, 8, {
      pointStyle: arrowLeg,
      pointRotation: legWindFrom.map(d => (d + 180) % 360),
      clip: false
    })
  ]
});

panel({ x: L.x, y: 437, w: L.w, h: 77 }, {
  xMin: L.xMin, xMax: L.xMax,
  bg: '#88ccff', bandColor: 'rgba(70,110,190,0.18)', bands: legNightBands,
  y: { min: 0, max: 4, ticks: [0, 1, 2, 3, 4], labels: baseStops.map(v => v.toFixed(1)), width: legW },
  y2: { min: 0, max: 4, ticks: [0, 1, 2, 3, 4], labels: visStops.map(String), width: legR, color: '#ff8800' },
  datasets: [
    line(pts(legendHours, posAll(legVisibility, visStops)), '#ff8c00', 2, { yAxisID: 'y2' }),
    dots(pts(legendHours, posAll(legBase01, baseStops)), '#fff', 3.1),
    dots(pts(legendHours, posAll(legBase25, baseStops)), '#d8d8d8', 3.1),
    dots(pts(legendHours, posAll(legBase45, baseStops)), '#999', 3.1),
    dots(pts(legendHours, posAll(legBase65, baseStops)), '#555', 3.1),
    dots(pts(legendHours, posAll(legBase79, baseStops)), '#000', 3.1),
    dots(pts(legendHours, posAll(legTop, baseStops)), '#aa2a2a', 3.1)
  ]
});

panel({ x: L.x, y: 523, w: L.w, h: 78 }, {
  xMin: L.xMin, xMax: L.xMax,
  bg: '#88ccff', bandColor: 'rgba(70,110,190,0.18)', bands: legNightBands,
  xLabel: v => (v % 6 === 0 ? pad2(v % 24) : ''),
  y: { min: 0, max: 8, ticks: cloudTicks, width: legW },
  y2: { min: 0, max: 1, ticks: fogTicks, width: legR, color: '#ff8800' },
  datasets: [
    bars(pts(legendHours, legFog), '#ffb000', 3, { yAxisID: 'y2' }),
    line(pts(legendHours, legHigh), '#fff', 1),
    line(pts(legendHours, legVeryLow), 'rgba(0,0,0,0)', 0, { fill: 'start', backgroundColor: '#333' }),
    line(pts(legendHours, legLow), 'rgba(0,0,0,0)', 0, { fill: 'start', backgroundColor: '#555' }),
    line(pts(legendHours, legMid), 'rgba(0,0,0,0)', 0, { fill: 'start', backgroundColor: '#999' }),
    line(pts(legendHours, legHigh), 'rgba(0,0,0,0)', 0, { fill: 'start', backgroundColor: '#fff' })
  ]
});

// ---------- tlo dnia i nocy ----------
function band(x0, x1, y0, y1, color) {
  const d = document.createElement('div');
  d.className = 'band';
  d.style.cssText = `left:${x0}px;top:${y0}px;width:${x1 - x0}px;height:${y1 - y0}px;background:${color}`;
  page.appendChild(d);
}
band(343, 394, 29, 631, '#e7e7ea');
band(512, 564, 29, 631, '#e7e7ea');
band(681, 733, 29, 631, '#e7e7ea');
band(170, 232, 30, 628, '#edf3fd');

// ---------- teksty ----------
function text(t, x, y, color, opt) {
  opt = opt || {};
  const d = document.createElement('div');
  d.className = 'txt';
  d.textContent = t;
  let tx = opt.center ? '-50%' : (opt.right ? '-100%' : '0');
  let tr = `translate(${tx},-50%)`;
  if (opt.rot) tr = `translate(-50%,-50%) rotate(${opt.rot}deg)`;
  d.style.cssText = `left:${x}px;top:${y}px;color:${color || '#000'};transform:${tr};font-size:${opt.size || 12.5}px;` + (opt.bg ? `background:${opt.bg};padding:0 2px;` : '') + (opt.bold ? 'font-weight:bold;' : '');
  page.appendChild(d);
}

const legendTexts = [
  ['Czas lokalny', 6, 15], ['(CET/CEST)', 6, 27],
  ['Temperatura gruntu', 6, 42, '#aa2222'], ['max/min', 28, 53, '#aa2222'],
  ['Temperatura:', 6, 64], ['punkt środkowy', 13, 77, '#ee0000'], ['max/min', 28, 87, '#ffdcdc'],
  ['odczuwana', 10, 99, '#0000ee'], ['max/min', 28, 109, '#aadcff'], ['Temp. punktu rosy', 6, 120, '#6a5fd8'],
  ['Opad powyżej skali', 6, 137, '#ee0000'], ['Wilgotność względna', 6, 151, '#e8581c'], ['Wystąpienie burzy', 6, 165],
  ['Deszcz: max', 6, 179, '#00a000'], ['średni', 49, 190, '#00a000'], ['Śnieg:', 6, 201, '#1133cc'], ['max', 49, 201, '#1133cc'], ['średni', 49, 212, '#1133cc'],
  ['Wystąpienie opadu', 6, 224, '#ee0000'], ['konwekcyjnego', 6, 237, '#ee0000'],
  ['Ciśnienie', 5, 263], ['zredukowane', 5, 276], ['do poziomu morza', 5, 289],
  ['Wiatr na 10m:', 5, 318], ['poryw powyżej skali', 10, 334, '#ee0000'], ['max porywy wiatru', 10, 348, '#ee0000'],
  ['prędkość wiatru', 10, 368, NAVY], ['w środku obszaru', 10, 381, NAVY], ['kierunek wiatru', 10, 409, NAVY],
  ['Wierzchołek chmur', 6, 431, '#aa2222'], ['Podstawa chmur*', 6, 444], ['o pokryciu', 6, 456],
  ['> 7.9 okt.', 11, 468], ['> 6.5 okt.', 11, 480, '#444'], ['> 4.5 okt.', 10, 491, '#999'], ['> 2.5 okt.', 10, 501, '#ddd'],
  ['Widzialność', 6, 526, '#ff8800'], ['Chmury:', 6, 543], ['średnie', 10, 570, '#999'], ['niskie', 10, 581, '#333'], ['bardzo niskie', 10, 593, '#222'],
  ['Mgła', 6, 605, '#ffb400'], ['Czas uniwersalny (UTC)', 6, 622]
];
legendTexts.forEach(t => text(t[0], t[1], t[2], t[3], { size: 11 }));
text('> 0.1 okt.', 9, 511, '#fff', { bg: '#88ccff', size: 11 });
text('wysokie', 9, 557, '#fff', { bg: '#88ccff', size: 11 });
text('* powyżej poziomu morza', 5, 648, '#000', { size: 9, bold: true });

text('wschód słońca: 04:11 CEST', 280, 8, NAVY);
text('zachód słońca: 21:03 CEST', 280, 22, NAVY);
text('21°58\'4"E, 53°57\'18"N', 551, 8, NAVY, { center: true });
text('(x=265,  y=356)', 551, 21, NAVY, { center: true });
text('wysokość (min, środek, max)', 818, 8, NAVY, { right: true });
text('133 - 169 - 176 m', 740, 22, NAVY, { center: true });
text('wto, 08.07', 462, 37, '#000', { center: true });
text('śro, 09.07', 632, 37, '#000', { center: true });
text('CEST', 319, 50, '#000', { center: true, size: 13.5 });
text('CEST', 783, 50, '#000', { center: true, size: 13.5 });
text('UTC', 318, 612, '#000', { center: true, size: 13.5 });
text('UTC', 783, 612, '#000', { center: true, size: 13.5 });
text('08.07', 461, 626, '#000', { center: true, size: 13 });
text('09.07', 632, 626, '#000', { center: true, size: 13 });
text('meteo@icm.edu.pl', 300, 648, NAVY, { size: 13 });
text('© 2007-2025 ICM, Uniwersytet Warszawski', 554, 648, NAVY, { size: 13 });

const rotated = [
  ['temperatura', 289, 96, 13], ['(°C)', 302, 96, 13], ['temperatura', 815, 96, 13], ['(°C)', 802, 96, 13],
  ['opad', 289, 185, 13], ['(mm/h, kg/m²/h)', 303, 183, 12], ['(%)', 802, 190, 13], ['wilgotność wzgl.', 814, 183, 12],
  ['ciśnienie', 289, 273, 13], ['(hPa)', 302, 273, 13], ['(mm Hg)', 802, 273, 13], ['ciśnienie', 815, 273, 13],
  ['wiatr', 289, 362, 13], ['(m/s)', 302, 362, 13], ['(km/h)', 802, 362, 13], ['wiatr', 814, 362, 13],
  ['pion. rozciągł. chm.', 290, 478, 12], ['(km)', 302, 475, 12], ['(km)', 802, 475, 13], ['widzialność', 815, 488, 12],
  ['zachmurzenie', 290, 572, 12], ['(oktanty)', 302, 563, 12], ['(frakcja)', 802, 563, 13], ['mgła', 815, 563, 13]
];
rotated.forEach(t => text(t[0], t[1], t[2], NAVY, { rot: -90, size: t[3] }));

const compass = [['W', 287, 417, 0], ['N', 300, 409, -90], ['S', 296, 427, -90], ['E', 306, 420, -90], ['W', 802, 417, 0], ['N', 814, 409, -90], ['S', 810, 427, -90], ['E', 817, 420, -90]];
compass.forEach(t => text(t[0], t[1], t[2], NAVY, { rot: t[3] || 0.001, size: 12.5 }));

// ---------- linie odnosnikow legendy ----------
const leaders = [
  ['#000', [[68, 17], [133, 17], [156, 43]]],
  ['#aa2222', [[102, 43], [119, 43], [150, 93]]],
  ['#ee0000', [[92, 77], [115, 77]]], ['#ee0000', [[131, 77], [157, 103]]],
  ['#0000ee', [[70, 99], [133, 99], [163, 110]]],
  ['#6a5fd8', [[94, 120], [123, 120], [135, 113]]],
  ['#ee0000', [[102, 137], [137, 137], [146, 147]]],
  ['#e8581c', [[106, 151], [112, 151]]], ['#e8581c', [[130, 151], [147, 167]]],
  ['#000', [[105, 166], [113, 166]]], ['#000', [[131, 166], [138, 171]]],
  ['#00a000', [[69, 179], [139, 179]]], ['#00a000', [[78, 190], [143, 190]]],
  ['#1133cc', [[69, 201], [113, 201]]], ['#1133cc', [[132, 201], [161, 172]]],
  ['#1133cc', [[80, 212], [130, 212], [159, 182]]],
  ['#ee0000', [[97, 224], [140, 224], [147, 219]]],
  ['#000', [[52, 264], [133, 264]]],
  ['#ee0000', [[113, 334], [119, 334]]], ['#ee0000', [[130, 334], [138, 317]]],
  ['#ee0000', [[107, 348], [132, 348], [148, 340]]],
  [NAVY, [[92, 367], [135, 367]]], [NAVY, [[86, 410], [135, 410]]],
  ['#aa2222', [[100, 431], [133, 431], [185, 447]]],
  ['#000', [[57, 468], [133, 468], [192, 456]]],
  ['#444', [[56, 480], [143, 480]]],
  ['#888', [[57, 491], [132, 491], [143, 502]]],
  ['#ccc', [[57, 501], [132, 501], [137, 505]]],
  ['#88ccff', [[57, 510], [133, 510]]], ['#88ccff', [[57, 512], [133, 512]]],
  ['#ff8800', [[67, 527], [128, 527], [173, 465]]],
  ['#88ccff', [[53, 556], [185, 556]]], ['#88ccff', [[53, 558], [185, 558]]],
  ['#999', [[48, 571], [193, 571]]],
  ['#000', [[39, 582], [122, 582]]], ['#000', [[133, 582], [136, 582]]],
  ['#000', [[74, 594], [143, 594], [156, 600]]],
  ['#ffb400', [[27, 605], [218, 605], [218, 601]]],
  ['#000', [[138, 623], [148, 623], [157, 608]]]
];
const svgNS = 'http://www.w3.org/2000/svg';
const svg = document.createElementNS(svgNS, 'svg');
svg.setAttribute('width', 820);
svg.setAttribute('height', 660);
leaders.forEach(l => {
  const p = document.createElementNS(svgNS, 'polyline');
  p.setAttribute('points', l[1].map(a => a.join(',')).join(' '));
  p.setAttribute('fill', 'none');
  p.setAttribute('stroke', l[0]);
  p.setAttribute('stroke-width', 1);
  svg.appendChild(p);
});
page.appendChild(svg);
</script>
</body>
</html>
